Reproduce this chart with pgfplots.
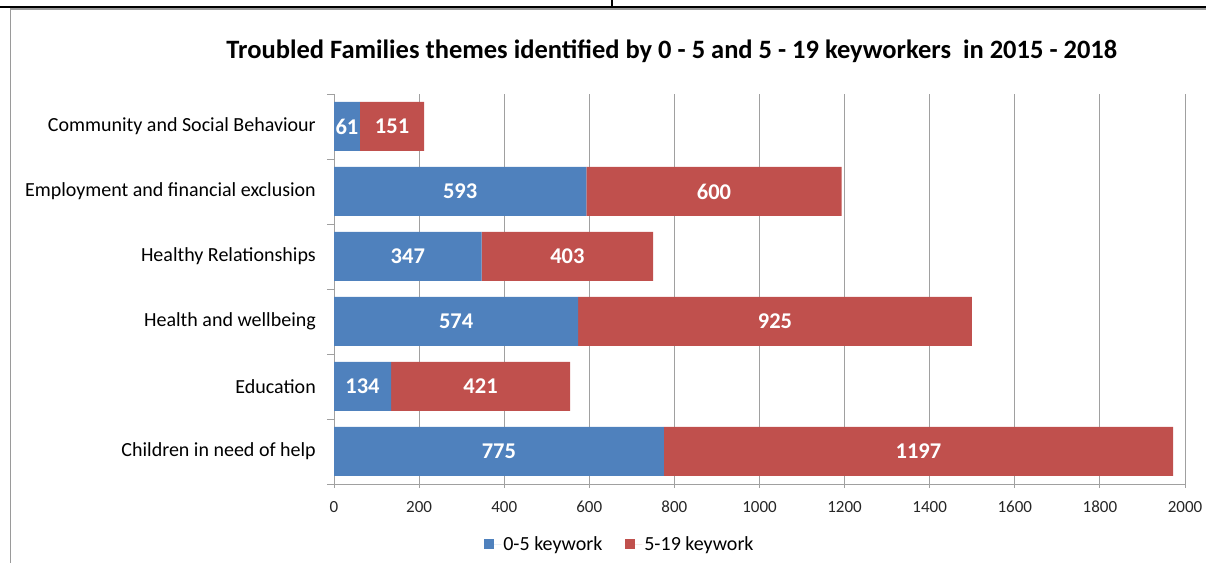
\documentclass[border=0pt]{standalone}
\usepackage{fontspec}
\setmainfont{Carlito}
\usepackage{pgfplots}
\usepackage{pgfplotstable}
\pgfplotsset{compat=1.18}
\definecolor{cblue}{HTML}{4F81BD}
\definecolor{cred}{HTML}{C0504D}
\definecolor{cgrid}{HTML}{A0A0A0}
\definecolor{cframe}{HTML}{9A9A9A}

\pgfplotstableread{
pos blue red
0 775 1197
1 134 421
2 574 925
3 347 403
4 593 600
5 61 151
}\data

\begin{document}
\begin{tikzpicture}
\path[use as bounding box] (0,0) rectangle (1206bp,563bp);
% document frame
\draw[black, line width=2bp] (0,556bp) -- (1206bp,556bp);
\draw[black, line width=1.2bp] (612bp,563bp) -- (612bp,556bp);
\draw[cframe, line width=1.5bp] (10.5bp,0) -- (10.5bp,554bp) -- (1206bp,554bp);

\pgfplotsset{base/.style={scale only axis, width=851bp, height=390bp,
  at={(334bp,79bp)}, anchor=south west,
  xmin=0, xmax=2000, ymin=-0.5, ymax=5.5}}

\begin{axis}[base, xbar stacked, bar width=49bp,
  axis x line*=bottom, axis y line*=left,
  axis line style={cgrid, line width=0.9bp},
  xtick={0,200,...,2000},
  xmajorgrids, grid style={cgrid, line width=0.9bp},
  ytick={0,...,5},
  yticklabels={Children in need of help, Education, Health and wellbeing, Healthy Relationships, Employment and financial exclusion, Community and Social Behaviour},
  minor ytick={-0.5,0.5,...,5.5},
  tick align=outside,
  major tick length=4bp, minor tick length=7bp,
  every major y tick/.style={draw=none},
  every tick/.append style={cgrid, line width=0.9bp},
  /pgf/number format/assume math mode=true,
  /pgf/number format/1000 sep={},
  xticklabel style={font=\fontsize{17bp}{20bp}\selectfont, text=black!85, inner sep=0pt, anchor=north, yshift=-13bp},
  yticklabel style={font=\fontsize{20bp}{24bp}\selectfont, text=black, inner sep=0pt, anchor=east, xshift=-14bp},
  title={\bfseries Troubled Families themes identified by 0 - 5 and 5 - 19 keyworkers\ \ in 2015 - 2018},
  title style={font=\fontsize{26.5bp}{30bp}\selectfont, at={(axis description cs:0.397,1.095)}, anchor=center, inner sep=0pt},
  legend style={draw=none, at={(axis description cs:0.336,-0.154)}, anchor=center,
    legend columns=2, font=\fontsize{20bp}{24bp}\selectfont,
    /tikz/every even column/.append style={column sep=21bp},
    inner sep=0pt},
  legend image code/.code={\fill[#1] (0bp,-5bp) rectangle (10bp,5bp); \path (0bp,0bp) -- (17bp,0bp);},
  ]
\addplot[fill=cblue, draw=none] table[x=blue, y=pos] \data;
\addplot[fill=cred, draw=none] table[x=red, y=pos] \data;
\legend{0-5 keywork, 5-19 keywork}
\end{axis}

\begin{axis}[base, hide axis,
  nodes near coords, point meta=explicit symbolic,
  nodes near coords align=center,
  every node near coord/.append style={font=\fontsize{22.5bp}{26bp}\selectfont\bfseries, text=white, anchor=center, inner sep=0pt}]
\addplot[draw=none, mark=none] table[x expr=\thisrow{blue}/2, y=pos, meta=blue] \data;
\addplot[draw=none, mark=none] table[x expr=\thisrow{blue}+\thisrow{red}/2, y=pos, meta=red] \data;
\end{axis}
\end{tikzpicture}
\end{document}
